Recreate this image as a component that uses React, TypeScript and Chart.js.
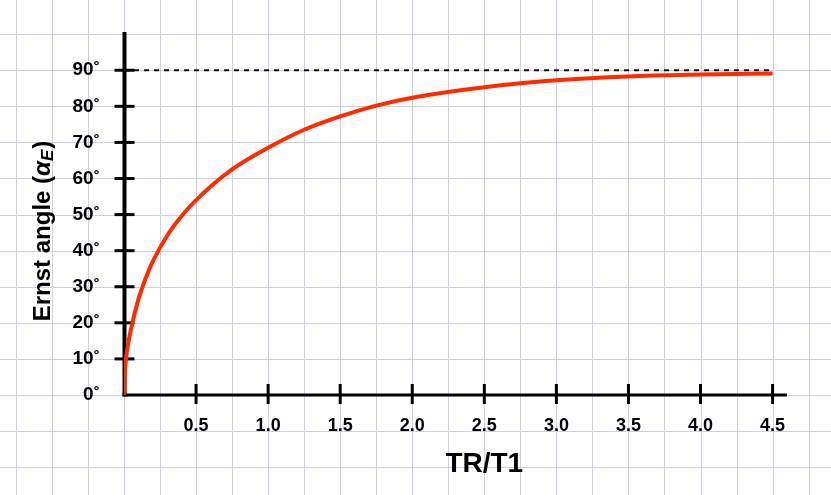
import React, { useEffect, useRef } from 'react';
import { Chart, registerables } from 'chart.js';

Chart.register(...registerables);

// TR/T1 ratio (x) and Ernst angle in degrees (y)
const TR_T1 = [0, 0.005, 0.01, 0.02, 0.05, 0.1, 0.15, 0.2, 0.3, 0.4, 0.5, 0.75, 1.0, 1.25, 1.5, 1.75, 2.0, 2.5, 3.0, 3.5, 4.0, 4.5];
const ERNST_ANGLE = [0, 6, 8.5, 12, 18.5, 26.5, 32.3, 37, 44.2, 49.6, 54, 62.5, 68.5, 73.5, 77.2, 80.2, 82.4, 85.3, 87.2, 88.3, 88.8, 89.1];

// 90° asymptote
const LIMIT_X = [0, 4.48];
const LIMIT_Y = [90, 90];

const X_TICKS = [0.5, 1.0, 1.5, 2.0, 2.5, 3.0, 3.5, 4.0, 4.5];
const Y_TICKS = [0, 10, 20, 30, 40, 50, 60, 70, 80, 90];

const X_TITLE = 'TR/T1';
const Y_TITLE_MAIN = 'Ernst angle (';
const Y_TITLE_ALPHA = 'α';
const Y_TITLE_SUB = 'E';
const Y_TITLE_END = ')';

const FONT = '"Liberation Sans", Arial, Helvetica, sans-serif';

const paperPlugin = {
  id: 'paper',
  beforeDraw(chart: any) {
    const { ctx, width, height } = chart;
    const xs = chart.scales.x;
    const ys = chart.scales.y;
    ctx.save();
    ctx.fillStyle = '#ffffff';
    ctx.fillRect(0, 0, width, height);
    ctx.strokeStyle = '#cdcde4';
    ctx.lineWidth = 1;
    ctx.beginPath();
    for (let k = -6; k <= 24; k++) {
      const px = Math.round(xs.getPixelForValue(k * 0.25)) + 0.5;
      if (px < 0 || px > width) continue;
      ctx.moveTo(px, 0);
      ctx.lineTo(px, height);
    }
    for (let k = -4; k <= 12; k++) {
      const py = Math.round(ys.getPixelForValue(k * 10)) + 0.5;
      if (py < 0 || py > height) continue;
      ctx.moveTo(0, py);
      ctx.lineTo(width, py);
    }
    ctx.stroke();
    ctx.restore();
  },
};

const axesPlugin = {
  id: 'handAxes',
  beforeDatasetsDraw(chart: any) {
    const { ctx, chartArea } = chart;
    const xs = chart.scales.x;
    const ys = chart.scales.y;
    const x0 = xs.getPixelForValue(0) + 0.5;
    const y0 = ys.getPixelForValue(0);
    ctx.save();
    ctx.strokeStyle = '#000000';
    ctx.lineCap = 'butt';
    // y axis
    ctx.lineWidth = 4;
    ctx.beginPath();
    ctx.moveTo(x0, chartArea.top);
    ctx.lineTo(x0, y0 + 1.5);
    ctx.stroke();
    // x axis
    ctx.lineWidth = 3;
    ctx.beginPath();
    ctx.moveTo(x0 - 2, y0);
    ctx.lineTo(chartArea.right, y0);
    ctx.stroke();
    // y tick marks
    for (const v of Y_TICKS) {
      if (v === 0) continue;
      const py = ys.getPixelForValue(v);
      ctx.beginPath();
      ctx.moveTo(x0 - 10, py);
      ctx.lineTo(x0 + 10, py);
      ctx.stroke();
    }
    // x tick marks
    for (const v of X_TICKS) {
      const px = xs.getPixelForValue(v);
      ctx.beginPath();
      ctx.moveTo(px, y0 - 11);
      ctx.lineTo(px, y0 + 9);
      ctx.stroke();
    }
    ctx.restore();
  },
};

const titlesPlugin = {
  id: 'titles',
  afterDraw(chart: any) {
    const { ctx } = chart;
    const xs = chart.scales.x;
    const ys = chart.scales.y;
    ctx.save();
    ctx.fillStyle = '#000000';
    // x title
    ctx.font = `bold 28px ${FONT}`;
    ctx.textAlign = 'center';
    ctx.textBaseline = 'alphabetic';
    ctx.fillText(X_TITLE, (xs.getPixelForValue(2.5) + xs.getPixelForValue(2.0)) / 2 + 36, ys.getPixelForValue(0) + 77);

    // y title (rotated)
    const mainFont = `bold 24px ${FONT}`;
    const alphaFont = `italic bold 24px ${FONT}`;
    const subFont = `italic bold 17px ${FONT}`;
    ctx.font = mainFont;
    const w1 = ctx.measureText(Y_TITLE_MAIN).width;
    const w4 = ctx.measureText(Y_TITLE_END).width;
    ctx.font = alphaFont;
    const w2 = ctx.measureText(Y_TITLE_ALPHA).width;
    ctx.font = subFont;
    const w3 = ctx.measureText(Y_TITLE_SUB).width;
    const total = w1 + w2 + w3 + w4 + 1;
    ctx.translate(50, 231);
    ctx.rotate(-Math.PI / 2);
    ctx.textAlign = 'left';
    let cx = -total / 2;
    ctx.font = mainFont;
    ctx.fillText(Y_TITLE_MAIN, cx, 0);
    cx += w1;
    ctx.font = alphaFont;
    ctx.fillText(Y_TITLE_ALPHA, cx, 0);
    cx += w2;
    ctx.font = subFont;
    ctx.fillText(Y_TITLE_SUB, cx, 3);
    cx += w3 + 1;
    ctx.font = mainFont;
    ctx.fillText(Y_TITLE_END, cx, 0);
    ctx.restore();
  },
};

export default function App() {
  const canvasRef = useRef<HTMLCanvasElement | null>(null);

  useEffect(() => {
    const canvas = canvasRef.current;
    if (!canvas) return;
    const chart = new Chart(canvas, {
      type: 'line',
      data: {
        datasets: [
          {
            label: 'limit',
            data: LIMIT_X.map((x, i) => ({ x, y: LIMIT_Y[i] })),
            borderColor: '#111111',
            borderWidth: 2,
            borderDash: [5, 5],
            pointRadius: 0,
            fill: false,
            order: 2,
          },
          {
            label: 'Ernst angle',
            data: TR_T1.map((x, i) => ({ x, y: ERNST_ANGLE[i] })),
            borderColor: '#ff2a00',
            borderWidth: 4,
            pointRadius: 0,
            cubicInterpolationMode: 'monotone',
            fill: false,
            order: 1,
          },
        ],
      },
      options: {
        responsive: false,
        animation: false,
        devicePixelRatio: 1,
        layout: { padding: { top: 32, right: 44, left: 0, bottom: 0 } },
        plugins: {
          legend: { display: false },
          tooltip: { enabled: false },
          title: { display: false },
        },
        scales: {
          x: {
            type: 'linear',
            min: 0,
            max: 4.6,
            grid: { display: false },
            border: { display: false },
            afterBuildTicks: (s: any) => {
              s.ticks = X_TICKS.map((v) => ({ value: v }));
            },
            afterFit: (s: any) => {
              s.height = 100;
            },
            ticks: {
              autoSkip: false,
              maxRotation: 0,
              padding: 12,
              color: '#000000',
              font: { family: FONT, size: 18, weight: 'bold' },
              callback: (v: any) => Number(v).toFixed(1),
            },
          },
          y: {
            type: 'linear',
            min: 0,
            max: 100.6,
            grid: { display: false },
            border: { display: false },
            afterBuildTicks: (s: any) => {
              s.ticks = Y_TICKS.map((v) => ({ value: v }));
            },
            afterFit: (s: any) => {
              s.width = 124;
            },
            ticks: {
              autoSkip: false,
              padding: 16,
              color: '#000000',
              font: { family: FONT, size: 19, weight: 'bold' },
              callback: (v: any) => `${v}˚`,
            },
          },
        },
      },
      plugins: [paperPlugin, axesPlugin, titlesPlugin],
    } as any);
    return () => chart.destroy();
  }, []);

  return (
    <div style={{ position: 'fixed', left: 0, top: 0, width: 831, height: 495, background: '#ffffff' }}>
      <canvas ref={canvasRef} width={831} height={495} style={{ display: 'block' }} />
    </div>
  );
}
